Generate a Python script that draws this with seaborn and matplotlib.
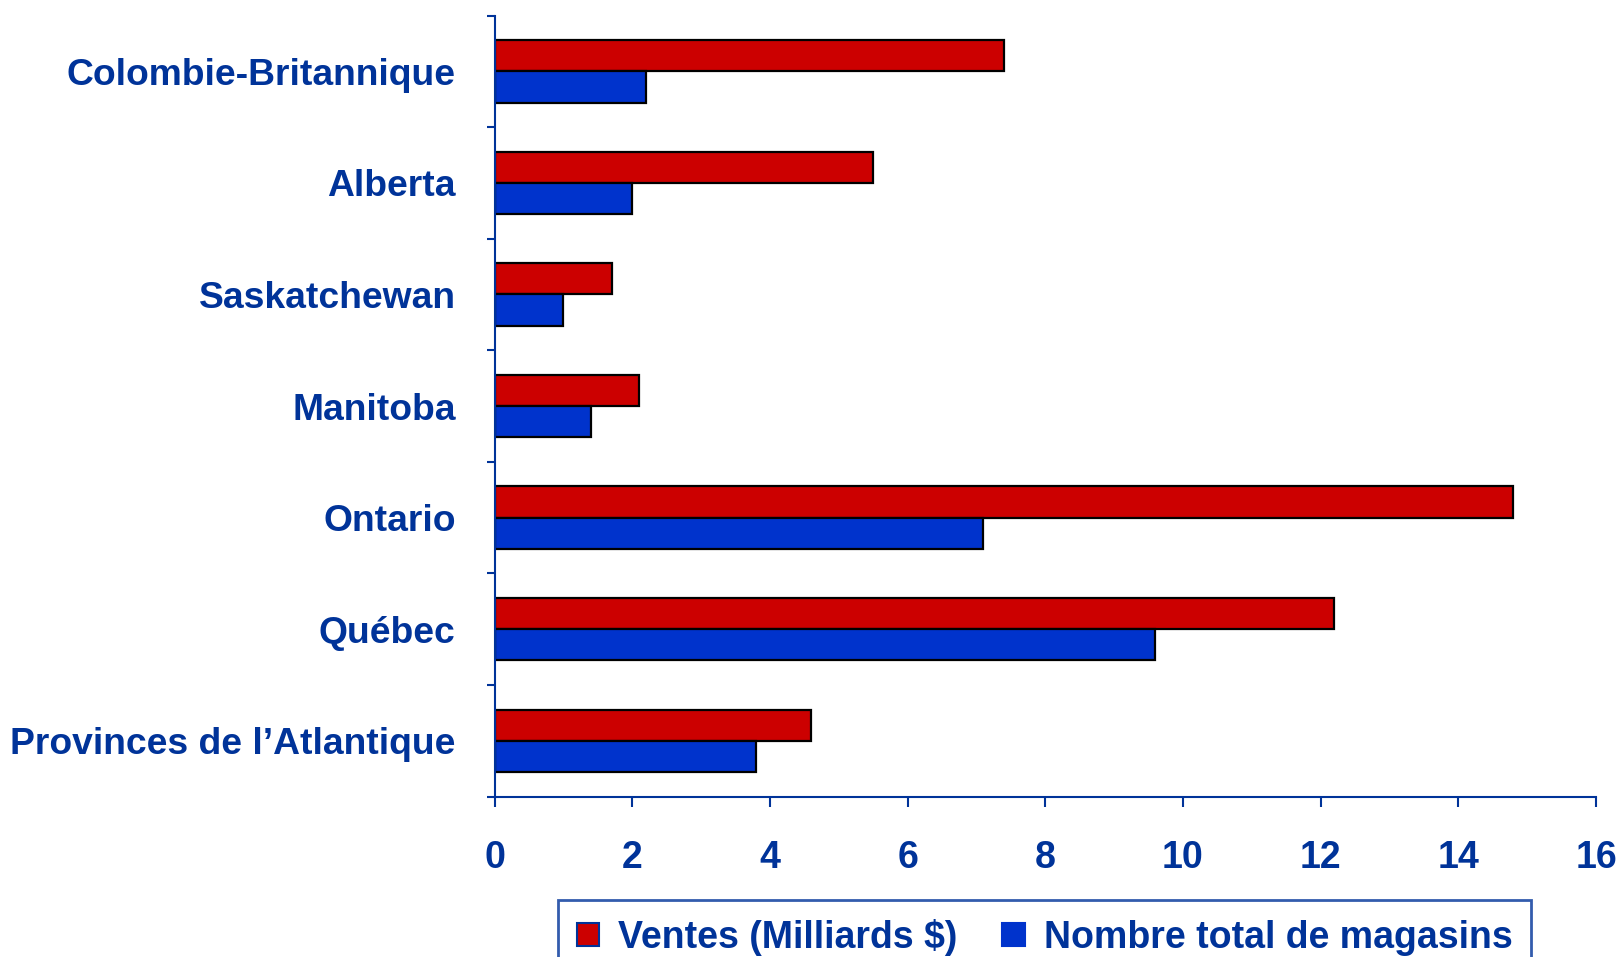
import numpy as np
import pandas as pd
import seaborn as sns
import matplotlib
matplotlib.use("Agg")
import matplotlib.pyplot as plt
from matplotlib.patches import Patch

provinces = ["Colombie-Britannique", "Alberta", "Saskatchewan", "Manitoba",
             "Ontario", "Québec", "Provinces de l\u2019Atlantique"]
ventes = [7.4, 5.5, 1.7, 2.1, 14.8, 12.2, 4.6]
magasins = [2.2, 2.0, 1.0, 1.4, 7.1, 9.6, 3.8]
series = ["Ventes (Milliards \\$)", "Nombre total de magasins"]
xticks = [0, 2, 4, 6, 8, 10, 12, 14, 16]

RED = "#CC0000"
BLUE = "#0033CC"
TXT = "#003399"

sns.set_style("white")
plt.rcParams['font.family'] = ['Liberation Sans', 'DejaVu Sans']
plt.rcParams['font.weight'] = 'bold'

df = pd.DataFrame({
    "province": provinces * 2,
    "valeur": ventes + magasins,
    "serie": [series[0]] * len(provinces) + [series[1]] * len(provinces),
})

fig = plt.figure(figsize=(16.22, 9.57), dpi=100)
ax = fig.add_axes([0.3049, 0.1676, 0.984 - 0.3049, 0.9838 - 0.1676])

sns.barplot(data=df, y="province", x="valeur", hue="serie", orient="h",
            palette=[RED, BLUE], width=0.56, edgecolor="black", linewidth=1.6,
            saturation=1, errorbar=None, legend=False, ax=ax)

ax.set_xlim(0, 16)
ax.set_ylim(6.5, -0.5)
ax.set_xlabel("")
ax.set_ylabel("")

# ticks on y between categories, labels centred
ax.set_yticks(np.arange(-0.5, 7, 1))
ax.set_yticklabels([])
ax.set_yticks(range(len(provinces)), minor=True)
ax.set_yticklabels(provinces, minor=True, fontsize=26.8, fontweight='bold', color=TXT)
ax.tick_params(axis='y', which='minor', length=0, pad=28)
ax.tick_params(axis='y', which='major', direction='out', length=6, width=1.5, color=TXT, left=True)

ax.set_xticks(xticks)
ax.set_xticklabels([str(t) for t in xticks], fontsize=27, fontweight='bold', color=TXT)
ax.tick_params(axis='x', direction='out', length=7, width=1.5, color=TXT, bottom=True, pad=24)

for s in ["top", "right"]:
    ax.spines[s].set_visible(False)
for s in ["left", "bottom"]:
    ax.spines[s].set_color(TXT)
    ax.spines[s].set_linewidth(1.5)

handles = [Patch(facecolor=RED, edgecolor=TXT, linewidth=1.5),
           Patch(facecolor=BLUE, edgecolor=BLUE, linewidth=1.5)]
leg = fig.legend(handles, ["Ventes (Milliards $)", "Nombre total de magasins"],
                 loc="upper center", bbox_to_anchor=(0.644, 0.0596), ncol=2,
                 borderaxespad=0, frameon=True, fancybox=False,
                 handlelength=0.6, handleheight=0.6,
                 handletextpad=0.5, columnspacing=1.2, borderpad=0.5,
                 prop={'size': 27, 'weight': 'bold'})
leg.get_frame().set_edgecolor(TXT)
leg.get_frame().set_linewidth(2)
for t in leg.get_texts():
    t.set_color(TXT)

fig.savefig("out.png", dpi=100)
